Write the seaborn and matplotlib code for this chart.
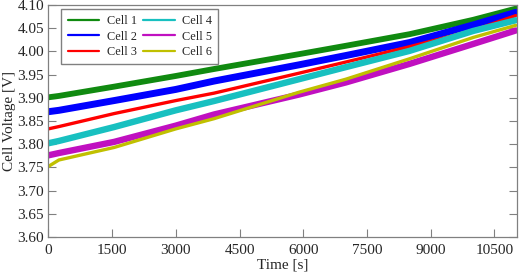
import pandas as pd
import seaborn as sns
import matplotlib.pyplot as plt

# Valores (tension media de cada banda)
tiempo = [0, 250, 1550, 3000, 3900, 5900, 7000, 8500, 10000, 11000]
cell_1 = [3.901, 3.904, 3.924, 3.947, 3.962, 3.994, 4.012, 4.037, 4.068, 4.092]
cell_2 = [3.870, 3.873, 3.894, 3.918, 3.936, 3.971, 3.991, 4.019, 4.057, 4.084]
cell_3 = [3.833, 3.838, 3.866, 3.894, 3.910, 3.953, 3.977, 4.010, 4.045, 4.077]
cell_4 = [3.802, 3.807, 3.837, 3.873, 3.893, 3.940, 3.966, 4.001, 4.044, 4.067]
cell_5 = [3.776, 3.781, 3.805, 3.840, 3.864, 3.907, 3.933, 3.973, 4.016, 4.045]
cell_6 = [3.752, 3.766, 3.793, 3.833, 3.855, 3.912, 3.940, 3.984, 4.030, 4.056]

celdas = ["Cell 1", "Cell 2", "Cell 3", "Cell 4", "Cell 5", "Cell 6"]
colores = ["#108a10", "#0000ff", "#ff0000", "#18c0c0", "#c010c0", "#c0c000"]
grosor = [4.2, 5.0, 2.4, 4.6, 4.6, 2.4]

df = pd.concat([
    pd.DataFrame({"Time": tiempo, "Voltage": v, "Cell": c})
    for c, v in zip(celdas, [cell_1, cell_2, cell_3, cell_4, cell_5, cell_6])
])

sns.set_style("ticks")
plt.rcParams["font.family"] = ["Liberation Serif", "DejaVu Serif"]

fig, ax = plt.subplots(figsize=(5.19, 2.75), dpi=100)
fig.subplots_adjust(left=0.093, right=0.997, bottom=0.138, top=0.982)

sns.lineplot(data=df, x="Time", y="Voltage", hue="Cell", palette=colores, ax=ax)
for linea, g in zip(ax.lines, grosor):
    linea.set_linewidth(g)

ax.set_xlim(0, 11040)
ax.set_ylim(3.60, 4.10)
ax.set_xticks(range(0, 10501, 1500))
ax.set_yticks([3.60, 3.65, 3.70, 3.75, 3.80, 3.85, 3.90, 3.95, 4.00, 4.05, 4.10])
ax.set_yticklabels([f"{v:.2f}" for v in ax.get_yticks()])
ax.set_xlabel("Time [s]", fontsize=11, labelpad=1)
ax.set_ylabel("Cell Voltage [V]", fontsize=11, labelpad=1)
ax.tick_params(direction="in", length=6, width=0.8, color="#808080",
               labelsize=11, right=True, pad=3)
ax.tick_params(axis="x", pad=5)
for s in ax.spines.values():
    s.set_visible(True)
    s.set_color("#808080")
    s.set_linewidth(0.9)

sns.move_legend(ax, "upper left", bbox_to_anchor=(0.028, 0.983), ncol=2,
                title=None, fontsize=8.8, frameon=True, fancybox=False,
                edgecolor="#808080", framealpha=1, handlelength=2.6,
                columnspacing=0.5, labelspacing=0.3, borderpad=0.5,
                handletextpad=0.6, borderaxespad=0)
for l in ax.get_legend().get_lines():
    l.set_linewidth(1.6)

plt.savefig("out.png", dpi=100)
plt.close()
